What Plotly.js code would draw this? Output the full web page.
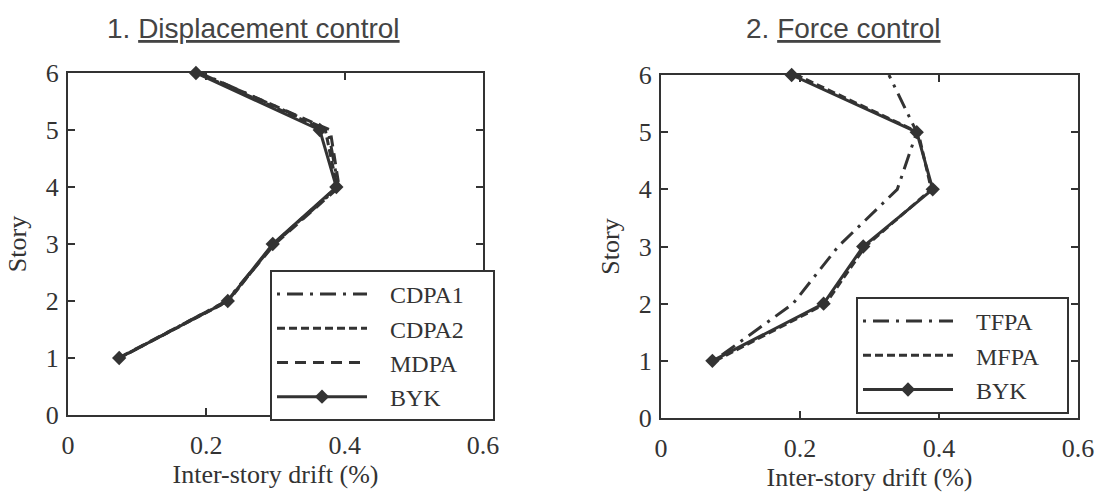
<!DOCTYPE html>
<html>
<head>
<meta charset="utf-8">
<script src="https://cdn.plot.ly/plotly-3.0.1.min.js"></script>
<style>html,body{margin:0;padding:0;background:#fff;}#chart{width:1099px;height:495px;}</style>
</head>
<body>
<div id="chart"></div>
<script>
// Stories (y values)
var stories = [1, 2, 3, 4, 5, 6];

// Panel 1: Displacement control (inter-story drift, %)
var cdpa1 = [0.075, 0.229, 0.298, 0.391, 0.376, 0.192];
var cdpa2 = [0.074, 0.232, 0.297, 0.389, 0.372, 0.188];
var mdpa  = [0.073, 0.230, 0.299, 0.392, 0.379, 0.190];
var byk1  = [0.074, 0.231, 0.296, 0.388, 0.364, 0.185];

// Panel 2: Force control (inter-story drift, %)
var tfpa  = [0.076, 0.190, 0.255, 0.340, 0.368, 0.328];
var mfpa  = [0.078, 0.237, 0.294, 0.389, 0.370, 0.195];
var byk2  = [0.074, 0.234, 0.291, 0.391, 0.368, 0.188];

var xTickVals = [0, 0.2, 0.4, 0.6];
var xTickText = ['0', '0.2', '0.4', '0.6'];
var yTickVals = [0, 1, 2, 3, 4, 5, 6];
var yTickText = ['0', '1', '2', '3', '4', '5', '6'];

var titles = ['1. <span style="text-decoration:underline">Displacement control</span>',
              '2. <span style="text-decoration:underline">Force control</span>'];
var xTitle = 'Inter-story drift (%)';
var yTitle = 'Story';

var ink = '#333333';
var serif = "'Liberation Serif', serif";

function tr(x, name, dash, xa, ya, leg, marker) {
  var t = {
    x: x, y: stories, name: name, type: 'scatter',
    mode: marker ? 'lines+markers' : 'lines',
    line: {color: ink, width: 3, dash: dash},
    xaxis: xa, yaxis: ya, legend: leg, cliponaxis: false
  };
  if (marker) t.marker = {symbol: 'diamond', size: 11, color: ink};
  return t;
}

var lead = '\u00a0\u00a0\u00a0';
var padL = '\u00a0\u00a0\u00a0\u00a0';
var padR = '\u00a0\u00a0\u00a0\u2009';
var data = [
  tr(cdpa1, lead + 'CDPA1' + padL, '3px,7px,16px,7px', 'x', 'y', 'legend', false),
  tr(cdpa2, lead + 'CDPA2', '8px,4px', 'x', 'y', 'legend', false),
  tr(mdpa,  lead + 'MDPA',  '11px,7px', 'x', 'y', 'legend', false),
  tr(byk1,  lead + 'BYK',   'solid', 'x', 'y', 'legend', true),
  tr(tfpa,  lead + 'TFPA',  '3px,7px,16px,7px', 'x2', 'y2', 'legend2', false),
  tr(mfpa,  lead + 'MFPA' + padR, '8px,4px', 'x2', 'y2', 'legend2', false),
  tr(byk2,  lead + 'BYK',   'solid', 'x2', 'y2', 'legend2', true)
];

function xaxis(domain, anchor) {
  return {
    domain: domain, anchor: anchor, range: [0, 0.6],
    tickvals: xTickVals, ticktext: xTickText,
    ticks: 'inside', ticklen: 7, tickwidth: 2, tickcolor: ink,
    showline: true, linewidth: 2, linecolor: ink, mirror: 'ticks',
    showgrid: false, zeroline: false,
    tickfont: {family: serif, size: 26, color: ink},
    ticklabelstandoff: 6,
    title: {text: xTitle, font: {family: serif, size: 26, color: ink}, standoff: 4}
  };
}
function yaxis(domain, anchor) {
  return {
    domain: domain, anchor: anchor, range: [0, 6],
    tickvals: yTickVals, ticktext: yTickText,
    ticks: 'inside', ticklen: 7, tickwidth: 2, tickcolor: ink,
    showline: true, linewidth: 2, linecolor: ink, mirror: 'ticks',
    showgrid: false, zeroline: false,
    tickfont: {family: serif, size: 26, color: ink},
    ticklabelstandoff: 2,
    title: {text: yTitle, font: {family: serif, size: 26, color: ink}, standoff: 12}
  };
}

function legend(x, y) {
  return {
    x: x, y: y, xanchor: 'left', yanchor: 'top',
    bgcolor: '#ffffff', bordercolor: ink, borderwidth: 2,
    font: {family: serif, size: 24, color: ink},
    itemwidth: 90, tracegroupgap: 0
  };
}

var layout = {
  width: 1099, height: 495,
  paper_bgcolor: '#ffffff', plot_bgcolor: '#ffffff',
  margin: {l: 68, r: 21, t: 73, b: 77},
  showlegend: true,
  xaxis: xaxis([0, 0.4109], 'y'),
  yaxis: yaxis([0.0087, 1], 'x'),
  xaxis2: xaxis([0.5871, 1], 'y2'),
  yaxis2: yaxis([0, 0.9942], 'x2'),
  legend: legend(0.2, 0.429),
  legend2: legend(0.7802, 0.3507),
  annotations: [
    {text: titles[0], xref: 'paper', yref: 'paper', x: 0.1832, y: 1.13,
     xanchor: 'center', yanchor: 'middle', showarrow: false,
     font: {family: "'Liberation Sans', Arial, sans-serif", size: 28, color: '#444444'}},
    {text: titles[1], xref: 'paper', yref: 'paper', x: 0.7683, y: 1.13,
     xanchor: 'center', yanchor: 'middle', showarrow: false,
     font: {family: "'Liberation Sans', Arial, sans-serif", size: 28, color: '#444444'}}
  ]
};

Plotly.newPlot('chart', data, layout, {displayModeBar: false, staticPlot: true});
</script>
</body>
</html>
